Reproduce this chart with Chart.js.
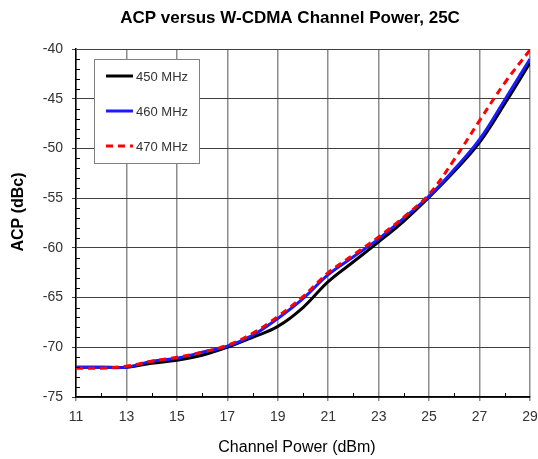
<!DOCTYPE html>
<html>
<head>
<meta charset="utf-8">
<script src="https://cdn.jsdelivr.net/npm/chart.js@4/dist/chart.umd.min.js"></script>
<style>
  html, body { margin: 0; padding: 0; background: #fff; }
  #wrap { width: 538px; height: 459px; }
</style>
</head>
<body>
<div id="wrap"><canvas id="grafico" width="538" height="459"></canvas></div>
<script>
// channel power (dBm)
const channelPower = [11, 12, 13, 14, 15, 16, 17, 18, 19, 20, 21, 22, 23, 24, 25, 26, 27, 28, 29];
// ACP (dBc) per frequency
const acp450 = [-72.0, -72.0, -72.0, -71.6, -71.3, -70.8, -70.0, -69.0, -67.9, -66.0, -63.4, -61.4, -59.4, -57.3, -54.9, -52.3, -49.4, -45.5, -41.4];
const acp460 = [-72.0, -72.0, -72.0, -71.4, -71.1, -70.5, -69.9, -68.8, -67.1, -65.1, -62.7, -60.9, -59.1, -57.0, -54.8, -52.1, -49.1, -45.1, -41.0];
const acp470 = [-72.1, -72.1, -71.9, -71.4, -71.0, -70.5, -69.8, -68.6, -66.9, -64.9, -62.5, -60.7, -58.9, -56.9, -54.6, -51.1, -47.2, -43.4, -40.1];
const seriesNames = ["450 MHz", "460 MHz", "470 MHz"];
const xTicks = [11, 13, 15, 17, 19, 21, 23, 25, 27, 29];

const chartTitle = "ACP versus W-CDMA Channel Power, 25C";
const xTitle = "Channel Power (dBm)";
const yTitle = "ACP (dBc)";

const pts = arr => arr.map((v, i) => ({ x: channelPower[i], y: v }));
const FONT = "'Liberation Sans', Arial, sans-serif";

document.addEventListener("DOMContentLoaded", () => {

    const ctx = document.getElementById("grafico");

    // titles, minor ticks and the legend box inside the plot
    const extras = {
        id: "extras",
        afterDraw(chart) {
            const c = chart.ctx;
            const xs = chart.scales.x, ys = chart.scales.y;
            const area = chart.chartArea;
            c.save();

            c.fillStyle = "#000";
            c.textAlign = "center";
            c.textBaseline = "middle";
            c.font = "bold 17px " + FONT;
            c.fillText(chartTitle, 290, 18);
            c.font = "16px " + FONT;
            c.fillText(xTitle, 297, 448);
            c.save();
            c.translate(19, 212);
            c.rotate(-Math.PI / 2);
            c.font = "bold 16px " + FONT;
            c.fillText(yTitle, 0, 0);
            c.restore();

            c.strokeStyle = "#000";
            c.lineWidth = 1;
            c.beginPath();
            for (let v = -74; v < -40; v++) {
                if (v % 5 === 0) continue;
                const y = Math.round(ys.getPixelForValue(v)) + 0.5;
                c.moveTo(area.left, y);
                c.lineTo(area.left + 4, y);
            }
            for (let v = 12; v < 29; v += 2) {
                const x = Math.round(xs.getPixelForValue(v)) + 0.5;
                c.moveTo(x, area.bottom);
                c.lineTo(x, area.bottom - 4);
            }
            c.stroke();

            // legend
            const bx = 94, by = 59, bw = 105, bh = 104;
            c.fillStyle = "#fff";
            c.fillRect(bx, by, bw, bh);
            c.strokeStyle = "#808080";
            c.lineWidth = 1;
            c.strokeRect(bx + 0.5, by + 0.5, bw, bh);
            const rows = [76, 111, 146];
            const dsets = chart.data.datasets;
            rows.forEach((ry, i) => {
                const ds = dsets[i];
                c.strokeStyle = ds.borderColor;
                c.lineWidth = ds.borderWidth;
                c.setLineDash(ds.borderDash || []);
                c.beginPath();
                c.moveTo(106, ry);
                c.lineTo(133, ry);
                c.stroke();
                c.setLineDash([]);
                c.fillStyle = "#333";
                c.font = "13px " + FONT;
                c.textBaseline = "middle";
                c.textAlign = "left";
                c.fillText(ds.label, 136, ry + 1);
            });
            c.restore();
        }
    };

    new Chart(ctx, {
        type: "line",
        data: {
            datasets: [
                {
                    label: seriesNames[0],
                    data: pts(acp450),
                    borderColor: "#000000",
                    borderWidth: 3,
                    order: 3
                },
                {
                    label: seriesNames[1],
                    data: pts(acp460),
                    borderColor: "#1a1aff",
                    borderWidth: 3,
                    order: 2
                },
                {
                    label: seriesNames[2],
                    data: pts(acp470),
                    borderColor: "#ff0000",
                    borderWidth: 3,
                    borderDash: [7, 5],
                    order: 1
                }
            ]
        },
        options: {
            responsive: false,
            animation: false,
            layout: { padding: { left: 0, right: 8, top: 49, bottom: 0 } },
            elements: {
                point: { radius: 0 },
                line: { tension: 0.4, fill: false }
            },
            plugins: {
                legend: { display: false },
                tooltip: { enabled: false },
                title: { display: false }
            },
            scales: {
                x: {
                    type: "linear",
                    min: 11,
                    max: 29,
                    afterBuildTicks: s => { s.ticks = xTicks.map(v => ({ value: v })); },
                    afterFit: s => { s.height = 62; s.paddingLeft = 0; s.paddingRight = 0; },
                    grid: { color: "#8c8c8c", lineWidth: 1.5, tickLength: 4, drawTicks: true },
                    border: { display: true, color: "#000", width: 1.5 },
                    ticks: {
                        color: "#333",
                        padding: 8,
                        maxRotation: 0,
                        font: { family: FONT, size: 14 }
                    }
                },
                y: {
                    min: -75,
                    max: -40,
                    afterFit: s => { s.width = 76; s.paddingTop = 0; s.paddingBottom = 0; },
                    grid: { color: "#404040", lineWidth: 1, tickLength: 4, drawTicks: true },
                    border: { display: true, color: "#000", width: 1.5 },
                    ticks: {
                        stepSize: 5,
                        color: "#333",
                        padding: 9,
                        font: { family: FONT, size: 14 }
                    }
                }
            }
        },
        plugins: [extras]
    });

});
</script>
</body>
</html>
